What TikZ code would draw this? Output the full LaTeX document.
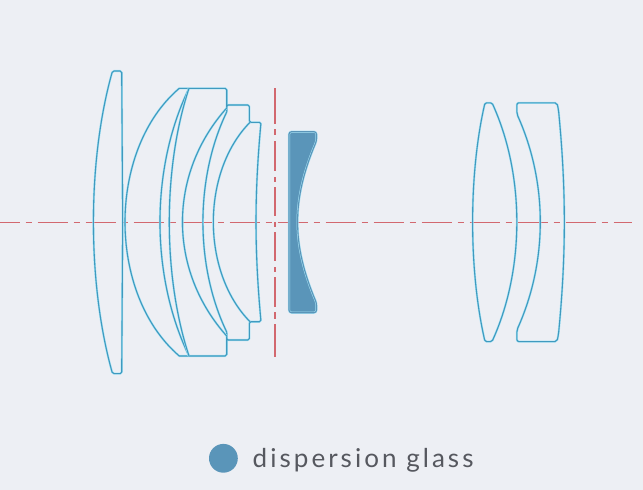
\documentclass[tikz,border=0pt]{standalone}
\usepackage{fontspec}
\newfontfamily\legendfont[LetterSpace=11.7]{Lato}
\definecolor{bgc}{HTML}{EDEFF4}
\definecolor{lensc}{HTML}{3F9ABF}
\definecolor{glowc}{HTML}{A6E2F5}
\definecolor{axisc}{HTML}{D2686F}
\definecolor{fillc}{HTML}{5A95B9}
\definecolor{textc}{HTML}{56585F}
\tikzset{
  lens/.style={draw=glowc,line width=.5pt,double=lensc,double distance=1.1pt,line join=round},
  glass/.style={draw=glowc,line width=.5pt,double=fillc,double distance=1.1pt,line join=round,fill=fillc},
  axisline/.style={draw=axisc,line width=1.2pt},
  swatch/.style={circle,fill=fillc,inner sep=0pt,minimum size=28.8pt},
  legend/.style={anchor=base west,inner sep=0pt,text=textc,font=\fontsize{26}{30}\selectfont\legendfont}
}
\begin{document}
\begin{tikzpicture}[x=1pt,y=-1pt]
\fill[bgc] (0,0) rectangle (643,490);
\useasboundingbox (0,0) rectangle (643,490);
% optical axis and stop
\draw[axisline,dash pattern=on 30pt off 6pt on 6pt off 6pt,dash phase=10.3pt] (0,222.3) -- (632,222.3);
\draw[axisline,dash pattern=on 36pt off 5pt on 6pt off 6pt on 30pt off 6pt on 5pt off 5pt on 29pt off 6pt on 5pt off 5pt on 29pt off 6pt on 5pt off 5pt on 30pt off 5pt on 7pt off 5pt on 40pt off 0pt] (275,88) -- (275,357);
% first element
\draw[lens,rounded corners=1.5pt] (112.5,71) .. controls (87.2,161) and (87.2,283) .. (112.5,373.6) -- (121.7,373.6) -- (122.7,222) -- (121.7,71) -- cycle;
% cemented group
\draw[lens] (189,88.3) -- (179.3,88.3) .. controls (106.9,150) and (106.9,294) .. (179.3,356) -- (189,356);
\draw[lens] (189,88.3) .. controls (150.3,168) and (150.3,276) .. (189,356);
\draw[lens] (189,88.3) .. controls (162.7,168) and (162.7,276) .. (189,356);
\draw[lens,rounded corners=1.5pt] (189,88.3) -- (226.7,88.3) -- (226.7,113) -- (226.7,105) -- (249.3,105) -- (249.3,122.3) -- (261,122.3) .. controls (254.4,194.6) and (254.4,249.4) .. (261,321.7) -- (249.3,321.7) -- (249.3,340) -- (226.7,340) -- (226.7,331) -- (226.7,356) -- (189,356);
\draw[lens] (226.7,108) .. controls (167.7,174) and (167.7,270) .. (226.7,336);
\draw[lens] (226.7,112) .. controls (195,178) and (195,266) .. (226.7,332);
\draw[lens] (250,122.3) .. controls (201.1,172) and (201.1,272) .. (250,321.7);
% dispersion glass element
\draw[glass,rounded corners=2.5pt] (289,131.7) -- (316.5,131.7) -- (316.5,141) .. controls (291.6,200) and (291.6,244) .. (316.5,303) -- (316.5,312.7) -- (289,312.7) -- cycle;
% rear group
\draw[lens,rounded corners=1.5pt] (485,102.8) .. controls (468.6,174) and (468.6,270) .. (485,341.6) -- (492,341.6) .. controls (524.9,269) and (524.9,175) .. (492,102.8) -- cycle;
\draw[lens,rounded corners=2pt] (516.9,102.8) -- (516.9,114) .. controls (547.8,183) and (547.8,261) .. (516.9,330) -- (516.9,341.6) -- (557,341.6) -- (558.5,334) .. controls (566.2,254) and (566.2,190) .. (558.5,110) -- (557,102.8) -- cycle;
% legend
\node[swatch] (dot) at (223.4,458.3) {};
\node[legend] (label) at (252.5,467) {dispersion glass};
\end{tikzpicture}
\end{document}
